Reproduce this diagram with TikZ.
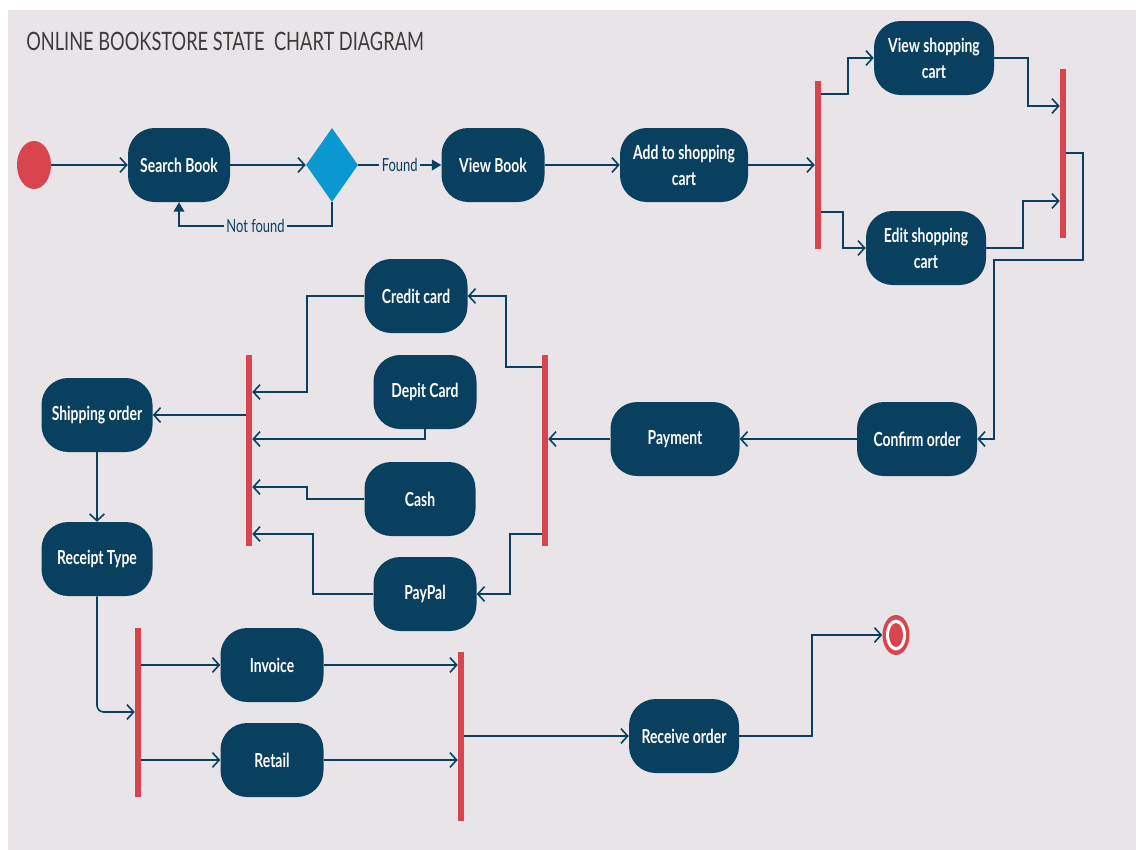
\documentclass[tikz,border=0pt]{standalone}
\usepackage{fontspec}
\setmainfont{Lato}[FakeStretch=0.72]
\usetikzlibrary{arrows.meta,shapes.geometric}
\definecolor{bgc}{HTML}{E8E4E8}
\definecolor{navy}{HTML}{0A405F}
\definecolor{barred}{HTML}{D9454F}
\definecolor{dia}{HTML}{0B97CF}
\definecolor{titlec}{HTML}{3C3C3C}
\tikzset{
  state/.style={draw=none, fill=navy, text=white, rounded corners=20pt, minimum height=55.5pt,
    inner sep=1pt, align=center, font=\fontsize{14.5}{19.5}\selectfont\bfseries},
  bar/.style={fill=barred, draw=none, minimum width=4.5pt, inner sep=0pt},
  conn/.style={draw=navy, line width=1.2pt},
  arr/.style={conn, -{Straight Barb[length=5pt,width=11pt]}},
  tri/.style={conn, -{Triangle[length=7pt,width=8pt]}},
  lbl/.style={fill=bgc, text=navy, inner sep=2pt, font=\fontsize{13.5}{15}\selectfont},
}
\begin{document}
\begin{tikzpicture}[x=0.75pt,y=-0.75pt]
\useasboundingbox (0,0) rectangle (1136,850);
\fill[white] (0,0) rectangle (1136,850);
\fill[bgc] (8,10) rectangle (1136,850);

\node[anchor=base west, text=titlec, font=\fontsize{19}{22}\selectfont, inner sep=0] (title) at (26,50) {ONLINE BOOKSTORE STATE\ \ CHART DIAGRAM};

% start / end
\node[ellipse, fill=barred, minimum width=25.5pt, minimum height=36pt, inner sep=0] (start) at (34,165) {};
\node[ellipse, fill=barred, minimum width=20.25pt, minimum height=30pt, inner sep=0] (end) at (896,635) {};
\fill[white] (end.center) ellipse [x radius=10, y radius=15.5];
\fill[barred] (end.center) ellipse [x radius=7, y radius=12];

% states
\node[state, minimum width=76.5pt] (search) at (179,165) {Search Book};
\node[diamond, fill=dia, minimum width=39pt, minimum height=55.5pt, inner sep=0] (dec) at (332,165) {};
\node[state, minimum width=77.25pt] (viewbook) at (493,165) {View Book};
\node[state, minimum width=96pt] (add) at (684,165) {Add to shopping\\cart};
\node[state, minimum width=90pt] (viewcart) at (934,58) {View shopping\\cart};
\node[state, minimum width=90pt] (editcart) at (926,248) {Edit shopping\\cart};
\node[state, minimum width=90pt] (confirm) at (917,439) {Confirm order};
\node[state, minimum width=96.75pt] (payment) at (675,439) {Payment};
\node[state, minimum width=77.25pt] (credit) at (416,296) {Credit card};
\node[state, minimum width=77.25pt] (depit) at (425,392) {Depit Card};
\node[state, minimum width=83.25pt] (cash) at (420,499) {Cash};
\node[state, minimum width=77.25pt] (paypal) at (425,594) {PayPal};
\node[state, minimum width=83.25pt] (shipping) at (97,415) {Shipping order};
\node[state, minimum width=83.25pt] (receipt) at (97,559) {Receipt Type};
\node[state, minimum width=77.25pt] (invoice) at (272,665) {Invoice};
\node[state, minimum width=77.25pt] (retail) at (272,760) {Retail};
\node[state, minimum width=82.5pt] (receive) at (684,736) {Receive order};

% bars
\node[bar, minimum height=126pt] (bar1) at (818,165) {};
\node[bar, minimum height=126.75pt] (bar2) at (1063,153.5) {};
\node[bar, minimum height=143.25pt] (bar3) at (545,450.5) {};
\node[bar, minimum height=143.25pt] (bar4) at (249,450.5) {};
\node[bar, minimum height=126.75pt] (bar5) at (138,712.5) {};
\node[bar, minimum height=126.75pt] (bar6) at (461,736.5) {};

% connectors
\draw[arr] (start) -- (search);
\draw[arr] (search) -- (dec);
\draw[tri] (dec) -- node[lbl] {Found} (viewbook);
\draw[tri] (dec.south) |- node[lbl, pos=0.75] {Not found} ([yshift=-18pt]search.south) -- (search.south);
\draw[arr] (viewbook) -- (add);
\draw[arr] (add) -- (bar1.west |- add.east);
\draw[arr] (bar1.east |- 0,94) -- ++(27,0) |- (viewcart.west);
\draw[arr] (bar1.east |- 0,212) -- ++(22,0) |- (editcart.west);
\draw[arr] (viewcart.east) -- ++(34,0) |- (bar2.west |- 0,106);
\draw[arr] (editcart.east) -- ++(37,0) |- (bar2.west |- 0,201);
\draw[arr] (bar2.east |- 0,153) -- ++(17,0) -- ++(0,107) -- ++(-89,0) |- (confirm.east);
\draw[arr] (confirm) -- (payment);
\draw[arr] (payment) -- (bar3.east |- payment.west);
\draw[arr] (bar3.west |- 0,367) -- ++(-36,0) |- (credit.east);
\draw[arr] (bar3.west |- 0,534) -- ++(-32,0) |- (paypal.east);
\draw[arr] (credit.west) -- ++(-57,0) |- (bar4.east |- 0,392);
\draw[arr] (depit.south) |- (bar4.east |- 0,439);
\draw[arr] (cash.west) -- ++(-57,0) |- (bar4.east |- 0,487);
\draw[arr] (paypal.west) -- ++(-60,0) |- (bar4.east |- 0,534);
\draw[arr] (bar4.west |- shipping.east) -- (shipping.east);
\draw[arr] (shipping) -- (receipt);
\draw[arr, rounded corners=5pt] (receipt.south) |- (bar5.west |- 0,712);
\draw[arr] (bar5.east |- invoice.west) -- (invoice.west);
\draw[arr] (bar5.east |- retail.west) -- (retail.west);
\draw[arr] (invoice.east) -- (bar6.west |- invoice.east);
\draw[arr] (retail.east) -- (bar6.west |- retail.east);
\draw[arr] (bar6.east |- receive.west) -- (receive.west);
\draw[arr] (receive.east) -- ++(73,0) |- (end.west);
\end{tikzpicture}
\end{document}
